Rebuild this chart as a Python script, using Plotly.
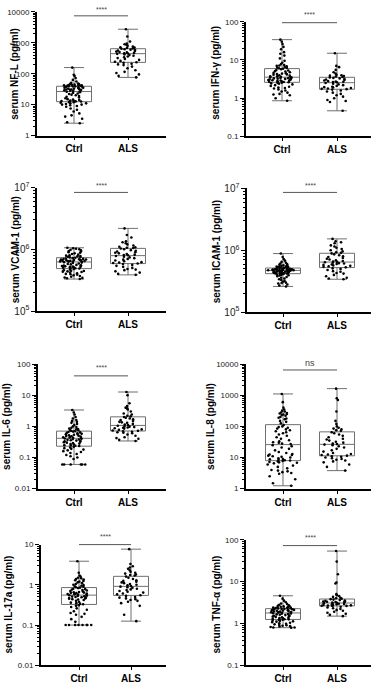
import numpy as np
import plotly.graph_objects as go

W, H = 375, 685
FONT = "Liberation Sans, Arial, sans-serif"

categories = ["Ctrl", "ALS"]

titles = [
    "serum NF-L (pg/ml)", "serum IFN-\u03b3 (pg/ml)",
    "serum VCAM-1 (pg/ml)", "serum ICAM-1 (pg/ml)",
    "serum IL-6 (pg/ml)", "serum IL-8 (pg/ml)",
    "serum IL-17a (pg/ml)", "serum TNF-\u03b1 (pg/ml)",
]
significance = ["****", "****", "****", "****", "****", "ns", "****", "****"]
y_log_ranges = [[0, 4], [-1, 2], [5, 7], [5, 7], [-2, 2], [0, 4], [-2, 1], [-1, 2]]

nfl_ctrl = [158, 92, 85, 72, 63, 56, 51, 48, 47, 46, 45, 44, 44, 43, 42, 42, 41, 41, 40, 40,
            39, 39, 38, 37, 37, 36, 35, 35, 34, 33, 33, 32, 31, 31, 30, 30, 29, 28, 28, 27,
            26, 25, 24, 23, 22, 21, 20, 19, 18, 17, 16, 15, 14.5, 14, 13.5, 13, 13, 12.8, 12.7, 12.6,
            12, 12, 11.5, 11, 11, 10.5, 10, 10, 9.5, 9, 8.5, 7.5, 6.8, 6, 5.2, 4.5, 4.1, 3.5, 2.7, 2.5]
nfl_als = [2750, 1600, 1100, 950, 900, 850, 800, 760, 720, 700, 680, 660,
           640, 620, 600, 580, 560, 540, 520, 500, 490, 470, 460, 450,
           440, 420, 400, 380, 360, 340, 320, 300, 280, 260, 245, 235,
           225, 210, 200, 190, 170, 150, 130, 115, 105, 95, 85, 76]

ifng_ctrl = [34, 30, 26, 22, 19, 16, 14.5, 13, 11, 9.5, 8.5, 7.8, 7.4, 7.2, 7.0, 6.8, 6.6, 6.4, 6.2, 6.1,
             5.9, 5.7, 5.5, 5.3, 5.1, 5.0, 4.8, 4.6, 4.5, 4.4, 4.3, 4.2, 4.1, 4.0, 3.9, 3.8, 3.75, 3.7, 3.65, 3.6,
             3.5, 3.45, 3.4, 3.35, 3.3, 3.25, 3.2, 3.15, 3.1, 3.05, 3.0, 2.95, 2.9, 2.85, 2.8, 2.75, 2.7, 2.68, 2.65, 2.62,
             2.55, 2.5, 2.45, 2.4, 2.3, 2.2, 2.1, 2.0, 1.9, 1.85, 1.8, 1.7, 1.6, 1.5, 1.4, 1.3, 1.25, 1.2, 1.0, 0.86]
ifng_als = [15, 7.0, 6.5, 5.5, 4.8, 4.4, 4.1, 4.0, 3.9, 3.8, 3.7, 3.6,
            3.5, 3.4, 3.3, 3.2, 3.1, 3.0, 2.9, 2.8, 2.75, 2.7, 2.65, 2.6,
            2.5, 2.4, 2.3, 2.2, 2.1, 2.0, 1.95, 1.9, 1.85, 1.8, 1.76, 1.73,
            1.68, 1.6, 1.5, 1.4, 1.3, 1.2, 1.1, 1.0, 0.9, 0.85, 0.8, 0.47]

vcam_ctrl = [10.6e5, 10.4e5, 10.2e5, 10.0e5, 9.8e5, 9.6e5, 9.4e5, 9.2e5, 9.0e5, 8.8e5, 8.6e5, 8.4e5, 8.2e5, 8.0e5,
             7.9e5, 7.8e5, 7.7e5, 7.6e5, 7.5e5, 7.4e5,
             7.3e5, 7.2e5, 7.1e5, 7.0e5, 6.95e5, 6.9e5, 6.85e5, 6.8e5, 6.75e5, 6.7e5, 6.65e5, 6.6e5, 6.55e5,
             6.5e5, 6.45e5, 6.4e5, 6.38e5, 6.35e5, 6.33e5, 6.3e5,
             6.2e5, 6.1e5, 6.0e5, 5.9e5, 5.8e5, 5.7e5, 5.6e5, 5.5e5, 5.45e5, 5.4e5, 5.35e5, 5.3e5, 5.25e5,
             5.2e5, 5.15e5, 5.1e5, 5.05e5, 5.0e5, 4.95e5, 4.9e5,
             4.8e5, 4.7e5, 4.6e5, 4.5e5, 4.45e5, 4.4e5, 4.35e5, 4.3e5, 4.2e5, 4.1e5, 4.0e5, 3.95e5, 3.9e5,
             3.8e5, 3.7e5, 3.6e5, 3.5e5, 3.45e5, 3.4e5, 3.3e5]
vcam_als = [21.8e5, 17e5, 15.5e5, 13.5e5, 13e5, 12.5e5, 12e5, 11.5e5, 11e5, 10.8e5, 10.6e5, 10.5e5,
            10.3e5, 10.0e5, 9.7e5, 9.5e5, 9.2e5, 9.0e5, 8.8e5, 8.6e5, 8.4e5, 8.2e5, 8.1e5, 8.0e5,
            7.8e5, 7.6e5, 7.4e5, 7.2e5, 7.0e5, 6.8e5, 6.6e5, 6.4e5, 6.2e5, 6.1e5, 6.0e5, 5.9e5,
            5.8e5, 5.6e5, 5.4e5, 5.2e5, 5.0e5, 4.8e5, 4.7e5, 4.6e5, 4.4e5, 4.2e5, 4.0e5, 3.86e5]

icam_ctrl = [8.85e5, 7.8e5, 7.2e5, 6.8e5, 6.5e5, 6.3e5, 6.1e5, 6.0e5, 5.9e5, 5.8e5, 5.7e5, 5.6e5, 5.55e5,
             5.5e5, 5.45e5, 5.4e5, 5.35e5, 5.3e5, 5.25e5, 5.2e5,
             5.15e5, 5.1e5, 5.05e5, 5.0e5, 4.98e5, 4.95e5, 4.92e5, 4.9e5, 4.88e5, 4.85e5, 4.83e5, 4.8e5,
             4.8e5, 4.78e5, 4.77e5, 4.76e5, 4.75e5, 4.75e5, 4.74e5, 4.74e5,
             4.7e5, 4.68e5, 4.65e5, 4.6e5, 4.58e5, 4.55e5, 4.5e5, 4.48e5, 4.45e5, 4.42e5, 4.4e5, 4.38e5,
             4.35e5, 4.32e5, 4.3e5, 4.28e5, 4.25e5, 4.22e5, 4.21e5, 4.2e5,
             4.15e5, 4.1e5, 4.05e5, 4.0e5, 3.95e5, 3.9e5, 3.8e5, 3.7e5, 3.6e5, 3.5e5, 3.4e5, 3.3e5, 3.2e5,
             3.1e5, 3.0e5, 2.95e5, 2.9e5, 2.8e5, 2.7e5, 2.6e5]
icam_als = [15.3e5, 14e5, 13.5e5, 13e5, 12e5, 11.5e5, 11e5, 10.5e5, 10e5, 9.6e5, 9.3e5, 9.1e5,
            8.9e5, 8.6e5, 8.3e5, 8.0e5, 7.8e5, 7.5e5, 7.3e5, 7.1e5, 6.9e5, 6.7e5, 6.6e5, 6.5e5,
            6.4e5, 6.3e5, 6.2e5, 6.1e5, 6.0e5, 5.9e5, 5.8e5, 5.7e5, 5.6e5, 5.5e5, 5.4e5, 5.3e5,
            5.1e5, 5.0e5, 4.8e5, 4.6e5, 4.5e5, 4.3e5, 4.2e5, 4.0e5, 3.8e5, 3.6e5, 3.5e5, 3.4e5]

il6_ctrl = [3.36, 2.8, 2.4, 2.0, 1.8, 1.6, 1.5, 1.4, 1.3, 1.2, 1.1, 1.0, 0.95, 0.9, 0.85, 0.82, 0.8, 0.77, 0.75, 0.72,
            0.7, 0.68, 0.66, 0.64, 0.62, 0.6, 0.58, 0.56, 0.55, 0.54, 0.52, 0.5, 0.49, 0.48, 0.47, 0.46, 0.45, 0.44, 0.43, 0.42,
            0.41, 0.4, 0.39, 0.38, 0.37, 0.36, 0.35, 0.34, 0.33, 0.32, 0.31, 0.3, 0.29, 0.28, 0.27, 0.26, 0.25, 0.245, 0.24, 0.235,
            0.22, 0.21, 0.2, 0.19, 0.18, 0.17, 0.16, 0.15, 0.14, 0.13, 0.12, 0.11, 0.1, 0.09, 0.06, 0.06, 0.06, 0.06, 0.06, 0.06]
il6_als = [12.7, 10, 5.5, 4.5, 4.0, 3.8, 3.5, 3.0, 2.6, 2.4, 2.2, 2.1,
           2.0, 1.9, 1.8, 1.7, 1.6, 1.5, 1.4, 1.35, 1.3, 1.2, 1.15, 1.1,
           1.05, 1.0, 0.98, 0.95, 0.92, 0.9, 0.87, 0.85, 0.8, 0.77, 0.74, 0.72,
           0.69, 0.67, 0.65, 0.63, 0.6, 0.55, 0.5, 0.45, 0.42, 0.4, 0.37, 0.34]

il8_ctrl = [1100, 600, 400, 350, 320, 300, 280, 270, 260, 250, 240, 230, 220, 200, 190, 180, 170, 150, 140, 125,
            110, 100, 95, 90, 85, 80, 75, 70, 65, 60, 55, 50, 45, 40, 36, 33, 31, 30, 28, 27,
            25, 23, 21, 19, 17, 15, 14, 13, 12.5, 12, 11.5, 11, 10.5, 10, 9.5, 9, 8.8, 8.5, 8.2, 8.0,
            7.8, 7.5, 7.2, 7.0, 6.8, 6.5, 6.0, 5.5, 5.0, 4.5, 4.0, 3.8, 3.6, 3.4, 3.2, 3.0, 2.5, 2.0, 1.5, 1.24]
il8_als = [1630, 800, 700, 300, 150, 120, 100, 90, 85, 80, 75, 72,
           65, 60, 55, 50, 45, 40, 38, 35, 32, 30, 28, 27,
           26, 25, 23, 21, 19, 17, 15.5, 14, 13, 12.5, 12, 11.5,
           11, 10.5, 10, 9.5, 9, 8.5, 8, 7.5, 7, 6, 5, 3.8]

il17_ctrl = [3.86, 2.0, 1.7, 1.6, 1.5, 1.45, 1.4, 1.35, 1.3, 1.25, 1.2, 1.15, 1.1, 1.05, 1.0, 0.98, 0.95, 0.92, 0.9, 0.87,
             0.85, 0.83, 0.8, 0.78, 0.76, 0.74, 0.72, 0.7, 0.68, 0.66, 0.65, 0.64, 0.63, 0.62, 0.61, 0.6, 0.59, 0.58, 0.57, 0.56,
             0.55, 0.54, 0.53, 0.52, 0.51, 0.5, 0.49, 0.48, 0.47, 0.46, 0.45, 0.44, 0.43, 0.42, 0.4, 0.38, 0.36, 0.35, 0.34, 0.33,
             0.31, 0.3, 0.28, 0.26, 0.24, 0.22, 0.2, 0.19, 0.18, 0.16, 0.14, 0.12, 0.1, 0.1, 0.1, 0.1, 0.1, 0.1, 0.1, 0.1]
il17_als = [7.7, 3.3, 2.9, 2.7, 2.5, 2.3, 2.1, 2.0, 1.9, 1.8, 1.75, 1.7,
            1.6, 1.5, 1.4, 1.3, 1.25, 1.2, 1.15, 1.1, 1.05, 1.0, 0.97, 0.93,
            0.9, 0.87, 0.84, 0.8, 0.77, 0.74, 0.7, 0.67, 0.64, 0.61, 0.58, 0.55,
            0.53, 0.5, 0.48, 0.46, 0.44, 0.42, 0.4, 0.38, 0.35, 0.3, 0.18, 0.125]

tnf_ctrl = [4.57, 3.9, 3.5, 3.2, 3.0, 2.9, 2.8, 2.7, 2.65, 2.6, 2.55, 2.5, 2.45, 2.42, 2.4, 2.38, 2.35, 2.32, 2.3, 2.28,
            2.24, 2.22, 2.2, 2.18, 2.15, 2.12, 2.1, 2.07, 2.05, 2.02, 2.0, 1.97, 1.94, 1.91, 1.88, 1.86, 1.84, 1.82, 1.8, 1.79,
            1.76, 1.73, 1.7, 1.67, 1.64, 1.61, 1.58, 1.55, 1.52, 1.49, 1.46, 1.43, 1.4, 1.37, 1.34, 1.32, 1.3, 1.28, 1.26, 1.25,
            1.22, 1.2, 1.18, 1.15, 1.12, 1.1, 1.07, 1.04, 1.01, 0.98, 0.95, 0.92, 0.9, 0.88, 0.86, 0.84, 0.82, 0.8, 0.8, 0.79]
tnf_als = [53.5, 30, 15, 9.5, 9.0, 5.0, 4.7, 4.5, 4.3, 4.1, 4.0, 3.9,
           3.8, 3.7, 3.6, 3.5, 3.45, 3.4, 3.35, 3.3, 3.25, 3.2, 3.15, 3.1,
           3.05, 3.0, 2.95, 2.9, 2.85, 2.8, 2.77, 2.74, 2.7, 2.67, 2.65, 2.62,
           2.6, 2.5, 2.4, 2.3, 2.2, 2.1, 2.0, 1.9, 1.8, 1.7, 1.6, 1.49]

series = [
    (nfl_ctrl, nfl_als), (ifng_ctrl, ifng_als),
    (vcam_ctrl, vcam_als), (icam_ctrl, icam_als),
    (il6_ctrl, il6_als), (il8_ctrl, il8_als),
    (il17_ctrl, il17_als), (tnf_ctrl, tnf_als),
]

# layout geometry in pixels: left, right, top, bottom, ctrl_x, als_x, title_x, title_y, sig_line_y, sig_text_y
geometry = [
    (37, 166, 5, 131, 74, 128, 15, 69, 9, 3),
    (246, 371, 15, 132, 282, 337, 216, 67, 16, 8),
    (37, 166, 184, 310, 74, 128, 15, 248, 189, 182),
    (247, 371, 185, 311, 283, 337, 216, 249, 189, 182),
    (38, 166, 364, 491, 74, 128, 7, 428, 376, 367),
    (246, 371, 364, 491, 283, 337, 211, 428, 370, 363),
    (41, 166, 548, 671, 79, 131, 8, 609, 548, 540),
    (246, 371, 543, 671, 283, 337, 216, 609, 549, 541),
]

BOX_PX = 35
fig = go.Figure()
shapes, annotations = [], []
layout = dict(
    width=W, height=H, autosize=False,
    margin=dict(l=0, r=0, t=0, b=0),
    paper_bgcolor="white", plot_bgcolor="white",
    showlegend=False, boxmode="overlay",
    font=dict(family=FONT, color="black"),
)

for i, ((ctrl, als), geo) in enumerate(zip(series, geometry)):
    left, right, top, bottom, cx, ax_, tx, ty, sy, sty = geo
    sfx = "" if i == 0 else str(i + 1)
    xa, ya = "x" + sfx, "y" + sfx
    u = ax_ - cx
    xr = [-(cx - left) / u, (right - cx) / u]
    bw = BOX_PX / u

    for g, vals in enumerate((ctrl, als)):
        arr = np.array(vals, dtype=float)
        q1, med, q3 = np.percentile(arr, [25, 50, 75])
        fig.add_trace(go.Box(
            x=[g], q1=[q1], median=[med], q3=[q3],
            lowerfence=[arr.min()], upperfence=[arr.max()],
            width=bw, whiskerwidth=0.57, fillcolor="white",
            line=dict(color="#6f6f6f", width=1), boxpoints=False,
            xaxis=xa, yaxis=ya, hoverinfo="skip", name=categories[g],
        ))
        fig.add_trace(go.Box(
            y=vals, x0=g, width=bw, boxpoints="all", jitter=0.9, pointpos=0,
            fillcolor="rgba(0,0,0,0)", line=dict(color="rgba(0,0,0,0)", width=0),
            whiskerwidth=0, marker=dict(color="black", size=2.6),
            xaxis=xa, yaxis=ya, hoverinfo="y", name=categories[g],
        ))

    power = i in (2, 3)
    ycfg = dict(
        domain=[1 - bottom / H, 1 - top / H], type="log", range=y_log_ranges[i],
        anchor=xa, dtick=1, tick0=0,
        ticks="outside", ticklen=4, tickwidth=1.2, tickcolor="black",
        minor=dict(ticks="outside", ticklen=2, tickwidth=0.8, tickcolor="black",
                   dtick="D1", showgrid=False),
        showline=True, linecolor="black", linewidth=2, showgrid=False,
        zeroline=False, fixedrange=True,
        tickfont=dict(family=FONT, size=8, color="#222"),
    )
    if power:
        ycfg["exponentformat"] = "power"
    else:
        ycfg["tickformat"] = "~g"
    layout["yaxis" + sfx] = ycfg

    layout["xaxis" + sfx] = dict(
        domain=[left / W, right / W], range=xr, type="linear", anchor=ya,
        tickvals=[0, 1], ticktext=categories, ticks="outside", ticklen=3,
        tickwidth=1.2, tickcolor="black", showline=True, linecolor="black",
        linewidth=1.8, showgrid=False, zeroline=False, fixedrange=True,
        tickfont=dict(family=FONT, size=10, color="black", weight="bold"),
    )

    shapes.append(dict(type="line", xref=xa, yref="paper", x0=0, x1=1,
                       y0=1 - sy / H, y1=1 - sy / H,
                       line=dict(color="#555", width=1)))
    is_ns = significance[i] == "ns"
    annotations.append(dict(xref=xa, yref="paper", x=0.5, y=1 - sty / H,
                            text=significance[i], showarrow=False,
                            xanchor="center", yanchor="middle",
                            font=dict(family=FONT, size=9 if is_ns else 7,
                                      color="#444")))
    annotations.append(dict(xref="paper", yref="paper", x=tx / W, y=1 - ty / H,
                            text=titles[i], textangle=-90, showarrow=False,
                            xanchor="center", yanchor="middle",
                            font=dict(family=FONT, size=10, color="black",
                                      weight="bold")))

layout["shapes"] = shapes
layout["annotations"] = annotations
fig.update_layout(**layout)
fig.write_html(
    "out.html",
    config={"displayModeBar": False, "staticPlot": False},
    post_script="document.body.style.margin='0';document.body.style.overflow='hidden';",
)
